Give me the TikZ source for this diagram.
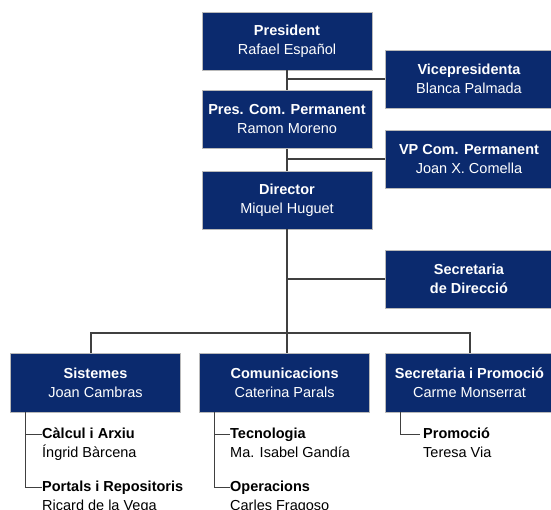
\documentclass[tikz,border=0pt]{standalone}
\usepackage{fontspec}
\setmainfont{Liberation Sans}
\usetikzlibrary{positioning}
\definecolor{navy}{RGB}{11,42,110}
\definecolor{linegray}{RGB}{64,64,64}
\tikzset{
  unit/.style={fill=navy, draw=gray!55, line width=0.8pt, text=white, align=center,
    inner sep=0pt, minimum width=170pt, minimum height=58pt,
    font=\fontsize{14.5}{19}\selectfont},
  wideunit/.style={unit, minimum width=168pt},
  item/.style={inner sep=0pt, anchor=base west, text height=10.5pt, text depth=3pt,
    font=\fontsize{14.5}{19}\selectfont\bfseries},
  person/.style={inner sep=0pt, anchor=base west, font=\fontsize{14.5}{19}\selectfont},
  link/.style={draw=linegray, line width=1.2pt}
}
\begin{document}
\begin{tikzpicture}[x=1pt, y=-1pt]
  \useasboundingbox (0,0) rectangle (551,510);

  % top of the chart
  \node[unit] (pres) at (287,41) {\textbf{President}\\Rafael Español};
  \node[wideunit] (vice) at (469,79) {\textbf{Vicepresidenta}\\Blanca Palmada};
  \node[unit] (pcp) at (287,119.5) {\textbf{Pres. Com. Permanent}\\Ramon Moreno};
  \node[wideunit] (vpcp) at (469,159) {\textbf{VP Com. Permanent}\\Joan X. Comella};
  \node[unit] (dir) at (287,200) {\textbf{Director}\\Miquel Huguet};
  \node[wideunit] (secdir) at (469,279) {\textbf{Secretaria}\\\textbf{de Direcció}};

  % areas
  \node[unit, minimum height=59pt] (sis) at (95.5,382.5) {\textbf{Sistemes}\\Joan Cambras};
  \node[unit, minimum height=59pt] (com) at (284.6,382.5) {\textbf{Comunicacions}\\Caterina Parals};
  \node[wideunit, minimum height=59pt] (secpro) at (469.5,382.5) {\textbf{Secretaria i Promoció}\\Carme Monserrat};

  \draw[link] (pres) -- (pcp);
  \draw[link] (vice.west) -- (vice.west -| pres.south);
  \draw[link] (pcp) -- (dir);
  \draw[link] (vpcp.west) -- (vpcp.west -| pcp.south);
  \draw[link] (dir.south) -- (dir.south |- com.north);
  \draw[link] (secdir.west) -- (secdir.west -| dir.south);

  \coordinate (bus) at (287,333);
  \draw[link] ([xshift=-4.5pt]sis.north) |- (bus) -| ([xshift=0.5pt]secpro.north);

  % sections
  \node[item] (calc) at (42,438.5) {Càlcul i Arxiu};
  \node[person] (ingrid) at (42,457.5) {Íngrid Bàrcena};
  \node[item] (port) at (42,491.5) {Portals i Repositoris};
  \node[person] (ricard) at (42,510.5) {Ricard de la Vega};

  \node[item] (tecn) at (230,438.5) {Tecnologia};
  \node[person] (isabel) at (230,457.5) {Ma. Isabel Gandía};
  \node[item] (oper) at (230,491.5) {Operacions};
  \node[person] (carles) at (230,510.5) {Carles Fragoso};

  \node[item] (promo) at (423,438.5) {Promoció};
  \node[person] (teresa) at (423,457.5) {Teresa Via};

  \coordinate (sisstem) at ([xshift=15.5pt]sis.south west);
  \coordinate (comstem) at ([xshift=15.4pt]com.south west);
  \coordinate (secstem) at ([xshift=15pt]secpro.south west);
  \draw[link] (sisstem) |- (calc.west);
  \draw[link] (sisstem) |- (port.west);
  \draw[link] (comstem) |- (tecn.west);
  \draw[link] (comstem) |- (oper.west);
  \draw[link] (secstem) |- ([xshift=-3pt]promo.west);
\end{tikzpicture}
\end{document}
